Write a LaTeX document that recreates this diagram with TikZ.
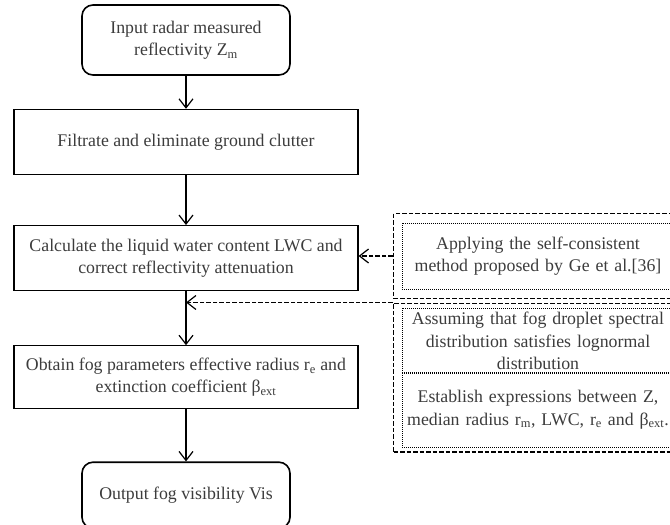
\documentclass[tikz,border=0pt]{standalone}
\usepackage{fontspec}
\setmainfont{Liberation Serif}
\usepackage{tikz}
\usetikzlibrary{positioning,arrows.meta,fit,calc}
\definecolor{colortext}{RGB}{ 60, 60, 60}

\begin{document}
\begin{tikzpicture}[
    node distance = 2em, auto,
    font={\fontsize{17.8pt}{22.5pt}\selectfont},
    base/.style={text=colortext,inner sep=4pt,align=center,rectangle},
    terminal/.style={base,draw,line width=1.6pt,rounded corners=11pt,minimum width=208pt,minimum height=70pt},
    process/.style={base,draw,line width=1.2pt,minimum width=344pt,minimum height=65pt},
    note/.style={base,draw,line width=1pt,dash pattern=on 1pt off 1pt,minimum width=270pt,text width=264pt},
    group/.style={draw,line width=1.3pt,dash pattern=on 4.5pt off 2pt,inner xsep=8pt},
    flow/.style={-{Straight Barb[length=9pt,width=14pt]},line width=1.2pt},
    flowdash/.style={flow,dash pattern=on 4.5pt off 2pt},
]
    \useasboundingbox (0,0) rectangle (670pt,-525pt);

    \node[terminal] at (186pt,-40pt) (input) {Input radar measured\\reflectivity Z\textsubscript{m}};
    \node[process,below=33pt of input] (filter) {Filtrate and eliminate ground clutter};
    \node[process,below=50pt of filter] (lwc) {Calculate the liquid water content LWC and\\correct reflectivity attenuation};
    \node[process,minimum height=63pt,below=54pt of lwc] (params) {Obtain fog parameters effective radius r\textsubscript{e} and\\extinction coefficient β\textsubscript{ext}};
    \node[terminal,minimum height=66pt,below=52pt of params] (output) {Output fog visibility Vis};

    \node[note,minimum height=66pt] at (538pt,-256pt) (selfcons) {Applying the self-consistent\\method proposed by Ge et al.[36]};
    \node[note,minimum height=56pt] at (538pt,-341pt) (lognorm) {Assuming that fog droplet spectral\\distribution satisfies lognormal\\distribution};
    \node[note,minimum height=75pt] at (538pt,-409.5pt) (express) {Establish expressions between Z,\\median radius r\textsubscript{m}, LWC, r\textsubscript{e} and β\textsubscript{ext}.};

    \node[group,inner ysep=9pt,fit=(selfcons)] (groupa) {};
    \node[group,inner ysep=4.5pt,fit=(lognorm)(express)] (groupb) {};

    \draw[flow](input) -- (filter);
    \draw[flow](filter) -- (lwc);
    \draw[flow](lwc) -- (params);
    \draw[flow](params) -- (output);

    \draw[flowdash](groupa.west) -- (groupa.west -| lwc.east);
    \draw[flowdash](groupb.north west) -- (groupb.north west -| lwc.south);

\end{tikzpicture}
\end{document}
